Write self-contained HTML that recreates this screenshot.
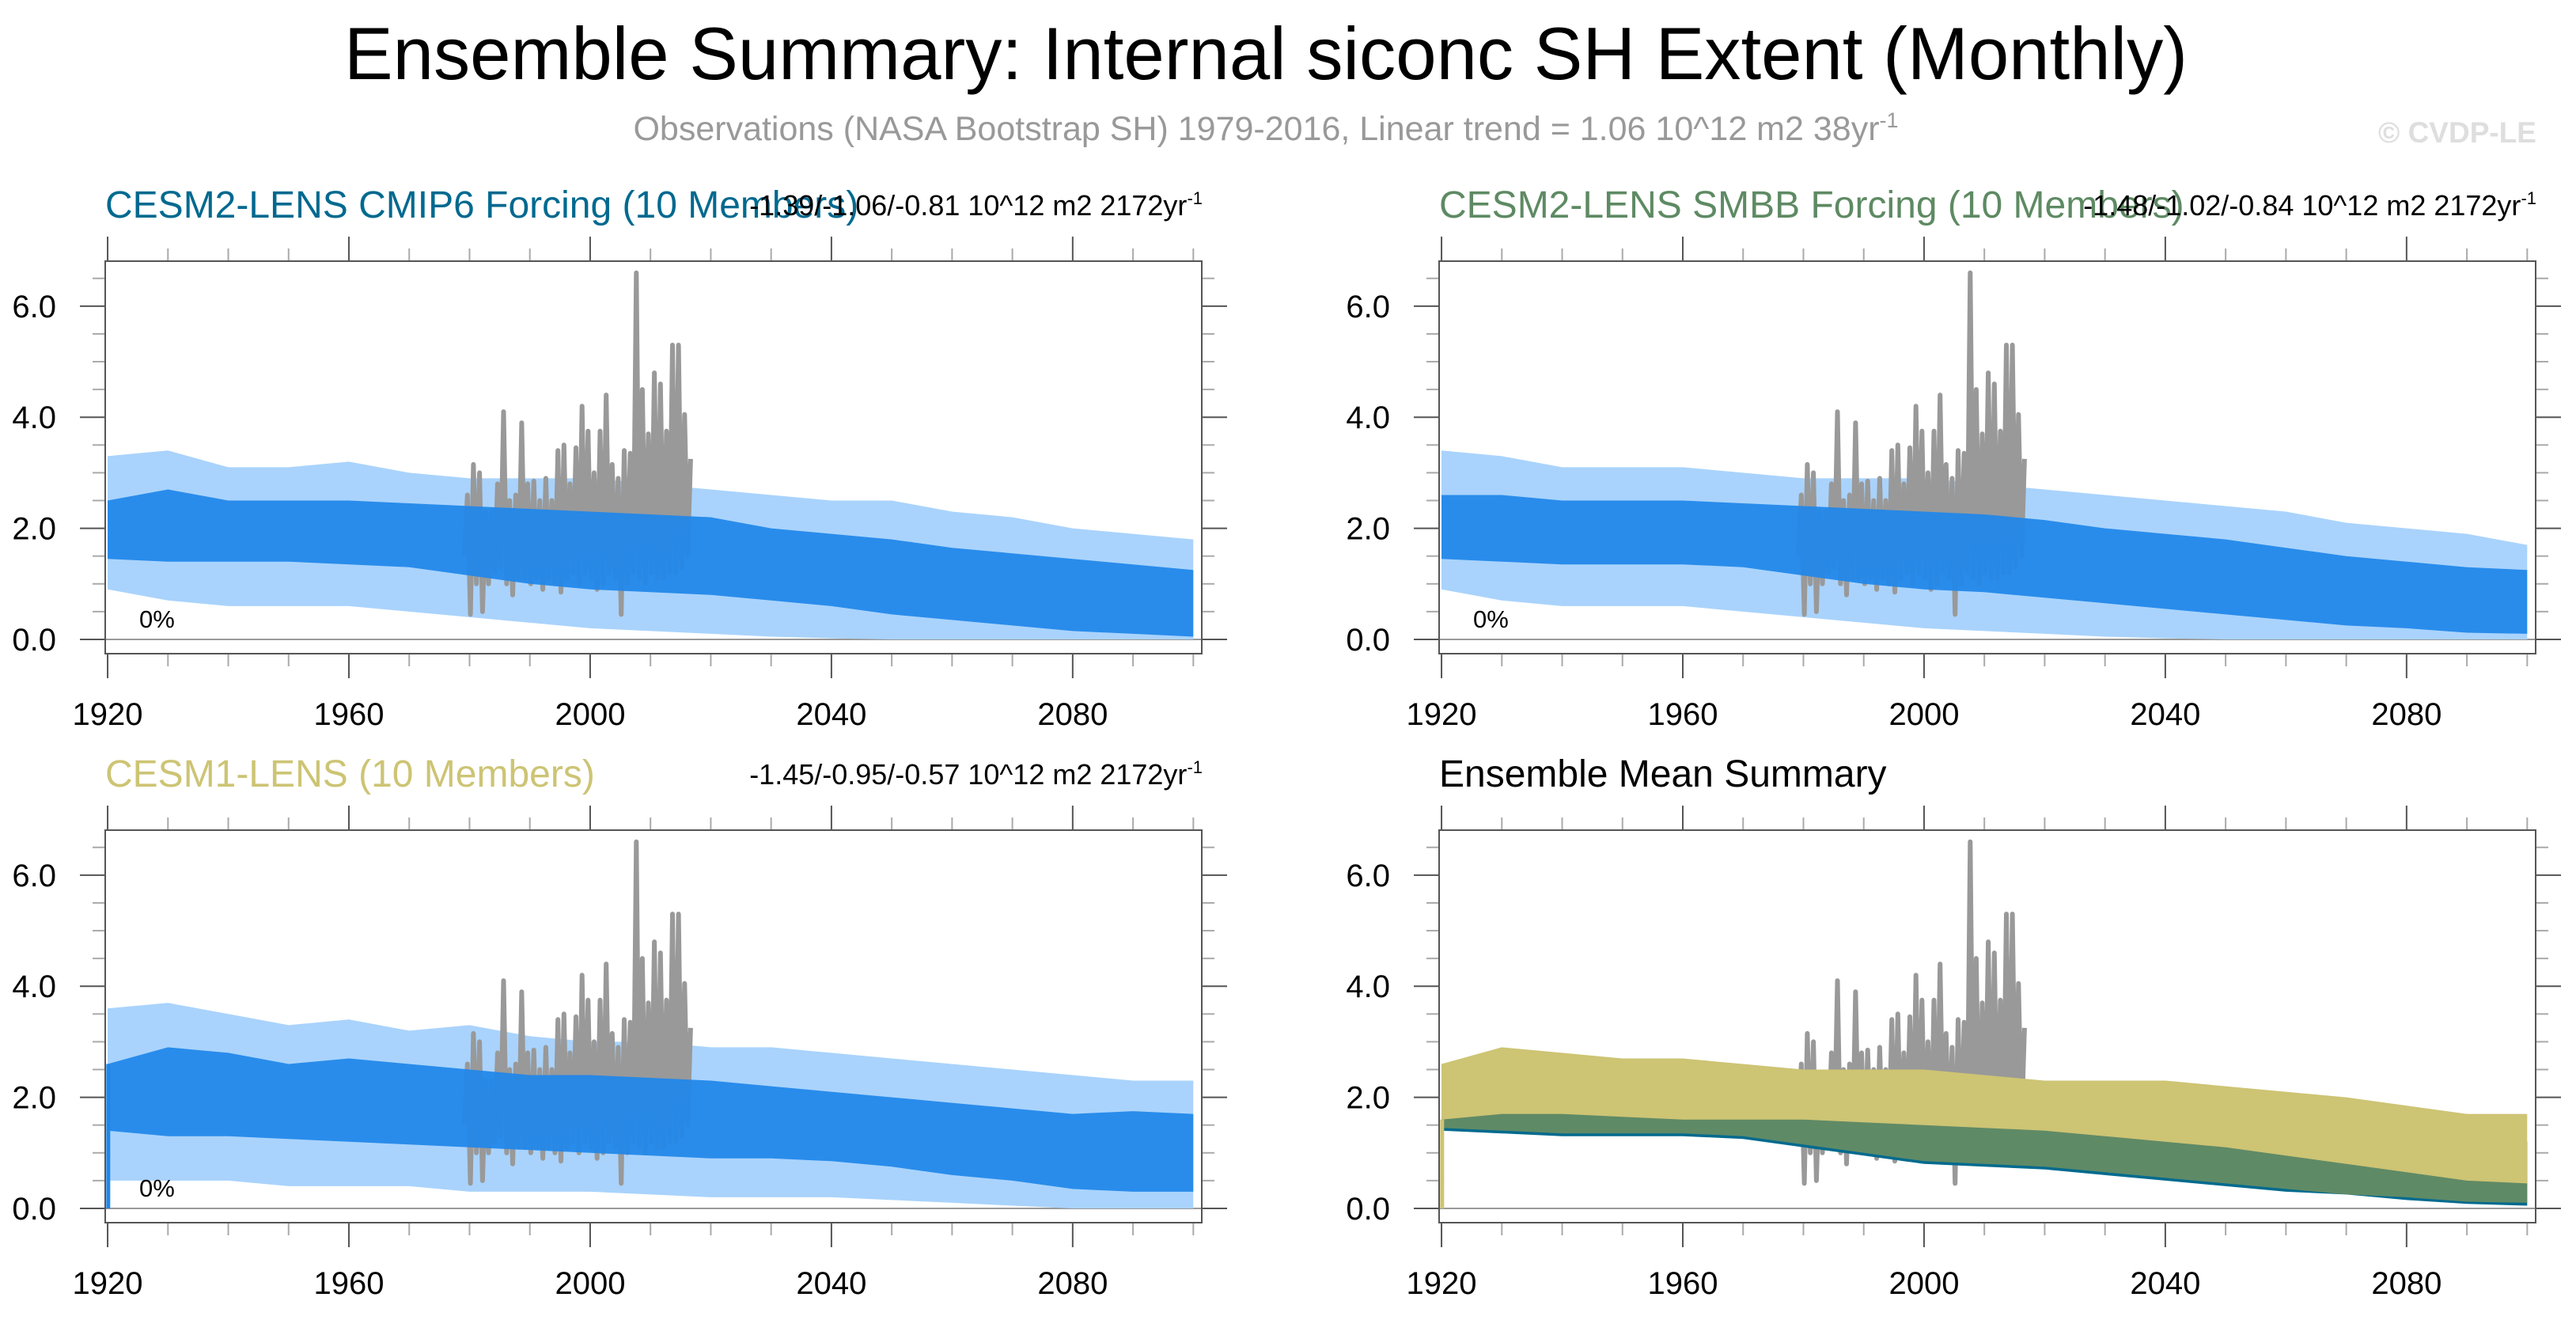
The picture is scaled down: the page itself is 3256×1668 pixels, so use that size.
<!DOCTYPE html>
<html><head><meta charset="utf-8">
<style>
html,body{margin:0;padding:0;background:#fff;}
svg{display:block;font-family:"Liberation Sans",Arial,sans-serif;}
</style></head>
<body>
<svg id="chart" width="3256" height="1668" viewBox="0 0 3256 1668" xmlns="http://www.w3.org/2000/svg">
<rect width="3256" height="1668" fill="#fff"/>
<text x="1600" y="100" font-size="94" text-anchor="middle" textLength="2330" lengthAdjust="spacingAndGlyphs" fill="#000">Ensemble Summary: Internal siconc SH Extent (Monthly)</text>
<text x="1600" y="177" font-size="43" text-anchor="middle" fill="#999">Observations (NASA Bootstrap SH) 1979-2016, Linear trend = 1.06 10^12 m2 38yr<tspan dy="-16" font-size="27">-1</tspan></text>
<text x="3206" y="180" font-size="37" font-weight="bold" text-anchor="end" fill="#dedede">© CVDP-LE</text>
<g id="panels"></g>
</svg>
<script>
// ---- data (decadal, 1920..2100) ----
const decades = [1920,1930,1940,1950,1960,1970,1980,1990,2000,2010,2020,2030,2040,2050,2060,2070,2080,2090,2100];
const yTicks = [0,2,4,6];
const yTickLabels = ["0.0","2.0","4.0","6.0"];
const xTicks = [1920,1960,2000,2040,2080];
const xTickLabels = ["1920","1960","2000","2040","2080"];

const cmip6MeanHi = [2.5,2.7,2.5,2.5,2.5,2.45,2.4,2.35,2.3,2.25,2.2,2.0,1.9,1.8,1.65,1.55,1.45,1.35,1.25];
const cmip6MeanLo = [1.45,1.4,1.4,1.4,1.35,1.3,1.15,1.0,0.9,0.85,0.8,0.7,0.6,0.45,0.35,0.25,0.15,0.1,0.05];
const cmip6SprHi  = [3.3,3.4,3.1,3.1,3.2,3.0,2.9,2.9,2.9,2.8,2.7,2.6,2.5,2.5,2.3,2.2,2.0,1.9,1.8];
const cmip6SprLo  = [0.9,0.7,0.6,0.6,0.6,0.5,0.4,0.3,0.2,0.15,0.1,0.05,0.02,0,0,0,0,0,0];

const smbbMeanHi = [2.6,2.6,2.5,2.5,2.5,2.45,2.4,2.35,2.3,2.25,2.15,2.0,1.9,1.8,1.65,1.5,1.4,1.3,1.25];
const smbbMeanLo = [1.45,1.4,1.35,1.35,1.35,1.3,1.15,1.0,0.9,0.85,0.75,0.65,0.55,0.45,0.35,0.25,0.2,0.12,0.1];
const smbbSprHi  = [3.4,3.3,3.1,3.1,3.1,3.0,2.9,2.9,2.9,2.8,2.7,2.6,2.5,2.4,2.3,2.1,2.0,1.9,1.7];
const smbbSprLo  = [0.9,0.7,0.6,0.6,0.6,0.5,0.4,0.3,0.2,0.15,0.1,0.05,0.02,0,0,0,0,0,0];

const cesm1MeanHi = [2.6,2.9,2.8,2.6,2.7,2.6,2.5,2.4,2.4,2.35,2.3,2.2,2.1,2.0,1.9,1.8,1.7,1.75,1.7];
const cesm1MeanLo = [1.4,1.3,1.3,1.25,1.2,1.15,1.1,1.05,1.0,0.95,0.9,0.9,0.85,0.75,0.6,0.5,0.35,0.3,0.3];
const cesm1SprHi  = [3.6,3.7,3.5,3.3,3.4,3.2,3.3,3.1,3.0,3.0,2.9,2.9,2.8,2.7,2.6,2.5,2.4,2.3,2.3];
const cesm1SprLo  = [0.5,0.5,0.5,0.4,0.4,0.4,0.3,0.3,0.3,0.25,0.2,0.2,0.2,0.15,0.1,0.05,0,0,0];
const cesm1StartValue = 0;

const brBlueHi   = [2.6,2.7,2.5,2.5,2.5,2.4,2.4,2.3,2.3,2.3,2.2,2.1,1.95,1.8,1.7,1.5,1.4,1.3,1.2];
const brBlueLo   = [1.4,1.35,1.3,1.3,1.3,1.25,1.1,0.95,0.8,0.75,0.7,0.6,0.5,0.4,0.3,0.25,0.15,0.08,0.05];
const brGreenHi  = [2.6,2.6,2.5,2.5,2.5,2.4,2.4,2.3,2.3,2.25,2.15,2.0,1.9,1.8,1.65,1.5,1.4,1.3,1.2];
const brGreenLo  = [1.45,1.4,1.35,1.35,1.35,1.3,1.15,1.0,0.85,0.8,0.75,0.65,0.55,0.45,0.35,0.25,0.2,0.12,0.1];
const brYellowHi = [2.6,2.9,2.8,2.7,2.7,2.6,2.5,2.5,2.5,2.4,2.3,2.3,2.3,2.2,2.1,2.0,1.85,1.7,1.7];
const brYellowLo = [1.6,1.7,1.7,1.65,1.6,1.6,1.6,1.55,1.5,1.45,1.4,1.3,1.2,1.1,0.95,0.8,0.65,0.5,0.45];

const obsYears = [1979,1980,1981,1982,1983,1984,1985,1986,1987,1988,1989,1990,1991,1992,1993,1994,1995,1996,1997,1998,1999,2000,2001,2002,2003,2004,2005,2006,2007,2008,2009,2010,2011,2012,2013,2014,2015,2016];
const obsHi = [2.6,3.15,3.0,2.3,2.3,2.8,4.1,2.5,2.6,3.9,2.8,2.85,2.5,2.9,2.5,3.4,3.5,2.8,3.45,4.2,3.75,3.0,3.75,4.4,3.15,2.9,3.4,3.35,6.6,4.5,3.7,4.8,4.6,3.75,5.3,5.3,4.05,3.25];
const obsLo = [1.5,0.45,1.0,0.5,1.0,1.2,1.3,1.0,0.8,1.1,1.1,1.0,1.1,0.9,1.1,1.0,0.85,1.1,1.2,1.0,1.2,1.1,0.9,1.0,1.2,1.1,0.45,1.0,1.2,1.1,1.0,1.2,1.1,1.1,1.2,1.2,1.3,1.5];

// ---- layout ----
const NS = "http://www.w3.org/2000/svg";
const W = 1386, H = 496;
const YMIN = -0.257, YMAX = 6.81, XMIN = 1919.6, XMAX = 2101.4;
function mk(tag, attrs, parent){ const e=document.createElementNS(NS,tag); for(const k in attrs) e.setAttribute(k,attrs[k]); parent.appendChild(e); return e; }

function panel(cfg){
  const g = mk("g",{},document.getElementById("panels"));
  
  
  const x0=cfg.x, y0=cfg.y;
  const sx = v => x0 + (v - XMIN) / (XMAX - XMIN) * W;
  const sy = v => y0 + (YMAX - v) / (YMAX - YMIN) * H;

  const t = mk("text",{x:x0, y:y0-55, "font-size":48, fill:cfg.titleColor},g);
  t.textContent = cfg.title;
  
  
  if(cfg.stats){
    const s = mk("text",{x:x0+W+1, y:y0-58, "font-size":36, "text-anchor":"end", fill:"#000"},g);
    s.appendChild(document.createTextNode(cfg.stats));
    const sup = mk("tspan",{dy:-14,"font-size":22},s); sup.textContent="-1";
    
    
  }

  for(let v=0; v<=6.5+1e-9; v+=0.5){
    const major = Math.abs(v - Math.round(v/2)*2) < 1e-9;
    const len = major?32:16, col = major?"#555":"#aaa";
    mk("line",{x1:x0-len,x2:x0,y1:sy(v),y2:sy(v),stroke:col,"stroke-width":2},g);
    mk("line",{x1:x0+W,x2:x0+W+len,y1:sy(v),y2:sy(v),stroke:col,"stroke-width":2},g);
  }
  for(let yr=1920; yr<=2100; yr+=10){
    const major = (yr-1920)%40===0;
    const len = major?31:16, col = major?"#555":"#aaa";
    mk("line",{x1:sx(yr),x2:sx(yr),y1:y0-len,y2:y0,stroke:col,"stroke-width":2},g);
    mk("line",{x1:sx(yr),x2:sx(yr),y1:y0+H,y2:y0+H+len,stroke:col,"stroke-width":2},g);
  }
  yTicks.forEach((v,i)=>{
    const l = mk("text",{x:x0-62,y:sy(v)+14,"font-size":40,"text-anchor":"end",fill:"#000"},g);
    l.textContent = yTickLabels[i];
    
    
  });
  xTicks.forEach((v,i)=>{
    const l = mk("text",{x:sx(v),y:y0+H+90,"font-size":40,"text-anchor":"middle",fill:"#000"},g);
    l.textContent = xTickLabels[i];
    
    
  });

  const cid = "clip-"+cfg.name;
  const cp = mk("clipPath",{id:cid},g); mk("rect",{x:x0,y:y0,width:W,height:H},cp);
  const pg = mk("g",{"clip-path":"url(#"+cid+")"},g);

  function band(hi, lo, color, name, op){
    let d = "";
    decades.forEach((yr,i)=>{ d += (i?"L":"M") + sx(yr).toFixed(1)+","+sy(hi[i]).toFixed(1); });
    for(let i=decades.length-1;i>=0;i--) d += "L"+sx(decades[i]).toFixed(1)+","+sy(lo[i]).toFixed(1);
    const p = mk("path",{d:d+"Z",fill:color,"fill-opacity":op||1},pg);
    
    
  }
  function obs(){
    let d="";
    obsYears.forEach((yr,i)=>{
      d += (i?"L":"M")+sx(yr+0.15).toFixed(1)+","+sy(obsLo[i]).toFixed(1);
      d += "L"+sx(yr+0.65).toFixed(1)+","+sy(obsHi[i]).toFixed(1);
    });
    const p = mk("path",{d:d,fill:"none",stroke:"#999","stroke-width":6,"stroke-linejoin":"round"},pg);
    
    
  }

  mk("line",{x1:x0,x2:x0+W,y1:sy(0),y2:sy(0),stroke:"#999","stroke-width":2},pg);

  if(cfg.kind==="members"){
    band(cfg.sprHi,cfg.sprLo,"#a9d3fc","member-spread-band");
    obs();
    band(cfg.meanHi,cfg.meanLo,"#1f87ea","ensemble-mean-band",0.93);
    if(cfg.startValue!==undefined){
      const l = mk("line",{x1:sx(1920.1),x2:sx(1920.1),y1:sy(cfg.startValue),y2:sy(cfg.meanHi[0]),stroke:"#1f87ea","stroke-width":5},pg);
      
      
    }
    const pct = mk("text",{x:x0+43,y:y0+H-33,"font-size":31,fill:"#000"},g);
    pct.textContent = "0%";
    
    
  } else {
    obs();
    band(brBlueHi,brBlueLo,"#006a8e","cesm2-cmip6-mean-band");
    band(brGreenHi,brGreenLo,"#5f8a66","cesm2-smbb-mean-band");
    band(brYellowHi,brYellowLo,"#cdc474","cesm1-mean-band");
    const l = mk("line",{x1:sx(1920.1),x2:sx(1920.1),y1:sy(cesm1StartValue),y2:sy(brYellowLo[0]),stroke:"#cdc474","stroke-width":5},pg);
    
    
  }

  const fr = mk("rect",{x:x0,y:y0,width:W,height:H,fill:"none",stroke:"#555","stroke-width":2},g);
  
  
}

panel({name:"panel-cesm2-cmip6",x:133,y:330,title:"CESM2-LENS CMIP6 Forcing (10 Members)",titleColor:"#00698f",
  stats:"-1.39/-1.06/-0.81 10^12 m2 2172yr",kind:"members",meanHi:cmip6MeanHi,meanLo:cmip6MeanLo,sprHi:cmip6SprHi,sprLo:cmip6SprLo});
panel({name:"panel-cesm2-smbb",x:1819,y:330,title:"CESM2-LENS SMBB Forcing (10 Members)",titleColor:"#5e8a63",
  stats:"-1.48/-1.02/-0.84 10^12 m2 2172yr",kind:"members",meanHi:smbbMeanHi,meanLo:smbbMeanLo,sprHi:smbbSprHi,sprLo:smbbSprLo});
panel({name:"panel-cesm1",x:133,y:1049,title:"CESM1-LENS (10 Members)",titleColor:"#cdc474",
  stats:"-1.45/-0.95/-0.57 10^12 m2 2172yr",kind:"members",meanHi:cesm1MeanHi,meanLo:cesm1MeanLo,sprHi:cesm1SprHi,sprLo:cesm1SprLo,startValue:cesm1StartValue});
panel({name:"panel-ensemble-mean-summary",x:1819,y:1049,title:"Ensemble Mean Summary",titleColor:"#000",kind:"summary"});
</script>
</body></html>
